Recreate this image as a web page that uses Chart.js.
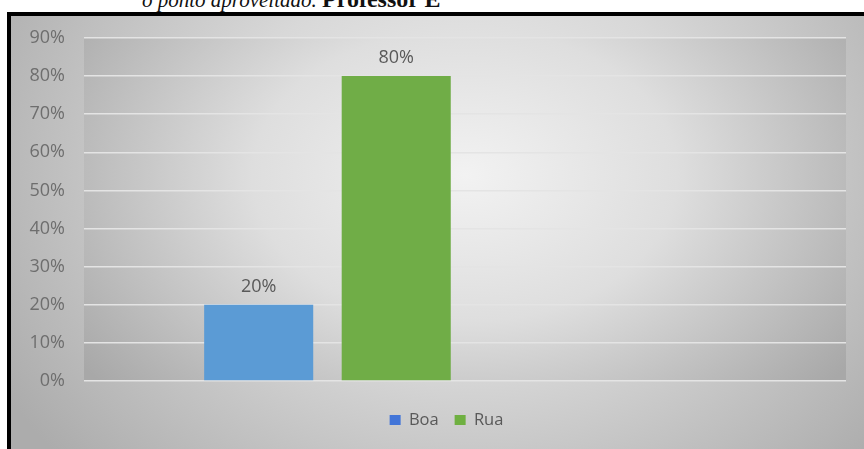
<!DOCTYPE html>
<html lang="pt">
<head>
<meta charset="utf-8">
<title>Boa / Rua</title>
<script src="https://cdn.jsdelivr.net/npm/chart.js@4.4.1/dist/chart.umd.min.js"></script>
<style>
    html, body {
        margin: 0;
        padding: 0;
        width: 864px;
        height: 449px;
        overflow: hidden;
        background: #fff;
    }
    .caption {
        position: absolute;
        left: 142px;
        top: -13px;
        font-family: "Liberation Serif", "DejaVu Serif", serif;
        font-size: 21px;
        line-height: 1;
        white-space: nowrap;
        color: #111;
    }
    .caption i { font-style: italic; }
    .caption b { font-size: 24px; }
    .frame {
        position: absolute;
        left: 7px;
        top: 12px;
        width: 900px;
        height: 480px;
        border-left: 4px solid #000;
        border-top: 4px solid #000;
        box-sizing: border-box;
        background: radial-gradient(ellipse 540px 440px at 455px 150px, #f0f0f0 0%, #d8d8d8 45%, #acacac 100%);
    }
    .chart-box {
        position: absolute;
        left: 12px;
        top: 16px;
        width: 852px;
        height: 433px;
    }
</style>
</head>
<body>
<div class="caption"><i>o ponto aproveitado.</i> <b>Professor E</b></div>
<div class="frame"></div>
<div class="chart-box"><canvas id="chart"></canvas></div>

<script>
// Data
const categories = [""];
const seriesNames = ["Boa", "Rua", "", ""];
const seriesValues = [[20], [80], [null], [null]];
const seriesColors = ["#5b9bd5", "#70ad47", "#a5a5a5", "#ffc000"];
const legendColors = ["#4275d8", "#6fb041"];
const yTicks = [0, 10, 20, 30, 40, 50, 60, 70, 80, 90];

const textGrey = "#595959";
const font = "'Open Sans', 'Noto Sans', sans-serif";

// Plot area shading
const plotShade = {
    id: "plotShade",
    beforeDraw(chart) {
        const { ctx, chartArea: a } = chart;
        const cx = (a.left + a.right) / 2;
        const cy = a.top + (a.bottom - a.top) * 0.4;
        const rx = (a.right - a.left) * 0.62;
        const ry = (a.bottom - a.top) * 0.95;
        ctx.save();
        ctx.beginPath();
        ctx.rect(a.left, a.top, a.right - a.left, a.bottom - a.top);
        ctx.clip();
        ctx.translate(cx, cy);
        ctx.scale(rx / ry, 1);
        const g = ctx.createRadialGradient(0, 0, 0, 0, 0, ry);
        g.addColorStop(0, "#f2f2f2");
        g.addColorStop(0.45, "#dedede");
        g.addColorStop(1, "#a8a8a8");
        ctx.fillStyle = g;
        ctx.fillRect(-rx * 2, -ry * 2, rx * 4, ry * 4);
        ctx.restore();
    }
};

// Value labels above bars
const valueLabels = {
    id: "valueLabels",
    afterDatasetsDraw(chart) {
        const { ctx } = chart;
        ctx.save();
        ctx.font = "18px " + font;
        ctx.fillStyle = textGrey;
        ctx.textAlign = "center";
        ctx.textBaseline = "middle";
        chart.data.datasets.forEach((ds, i) => {
            const meta = chart.getDatasetMeta(i);
            meta.data.forEach((bar, j) => {
                const v = ds.data[j];
                if (v === null) return;
                ctx.fillText(v + "%", bar.x, bar.y - 18);
            });
        });
        ctx.restore();
    }
};

// nudge the legend row a bit to the right
const legendShift = {
    id: "legendShift",
    afterLayout(chart) {
        chart.legend.left += 35;
    }
};

const ctx = document.getElementById("chart").getContext("2d");
new Chart(ctx, {
    type: "bar",
    data: {
        labels: categories,
        datasets: seriesNames.map((name, i) => ({
            label: name,
            data: seriesValues[i],
            backgroundColor: seriesColors[i],
            borderWidth: 0,
            categoryPercentage: 0.722,
            barPercentage: 0.793
        }))
    },
    options: {
        responsive: true,
        maintainAspectRatio: false,
        animation: false,
        layout: { padding: { left: 0, right: 18, top: 22, bottom: 10.75 } },
        scales: {
            x: {
                grid: { display: false },
                border: { display: false },
                ticks: { display: false },
                afterFit: s => { s.height = 14.75; }
            },
            y: {
                min: 0,
                max: 90,
                afterBuildTicks: s => { s.ticks = yTicks.map(v => ({ value: v })); },
                grid: { color: "#e4e4e4", lineWidth: 1.5, drawTicks: false },
                border: { display: false },
                ticks: {
                    padding: 19,
                    color: "#6e6e6e",
                    font: { family: font, size: 18 },
                    callback: v => v + "%"
                },
                afterFit: s => {
                    s.width = 72;
                    s.paddingTop = 0;
                    s.paddingBottom = 0;
                }
            }
        },
        plugins: {
            legend: {
                position: "bottom",
                labels: {
                    boxWidth: 11,
                    boxHeight: 10,
                    padding: 16,
                    color: textGrey,
                    font: { family: font, size: 16.5 },
                    filter: item => item.text !== "",
                    generateLabels: chart => {
                        const items = Chart.defaults.plugins.legend.labels.generateLabels(chart);
                        items.forEach(it => {
                            if (legendColors[it.datasetIndex]) it.fillStyle = legendColors[it.datasetIndex];
                            it.lineWidth = 0;
                        });
                        return items;
                    }
                }
            },
            tooltip: { enabled: false }
        }
    },
    plugins: [plotShade, valueLabels, legendShift]
});
</script>
</body>
</html>
